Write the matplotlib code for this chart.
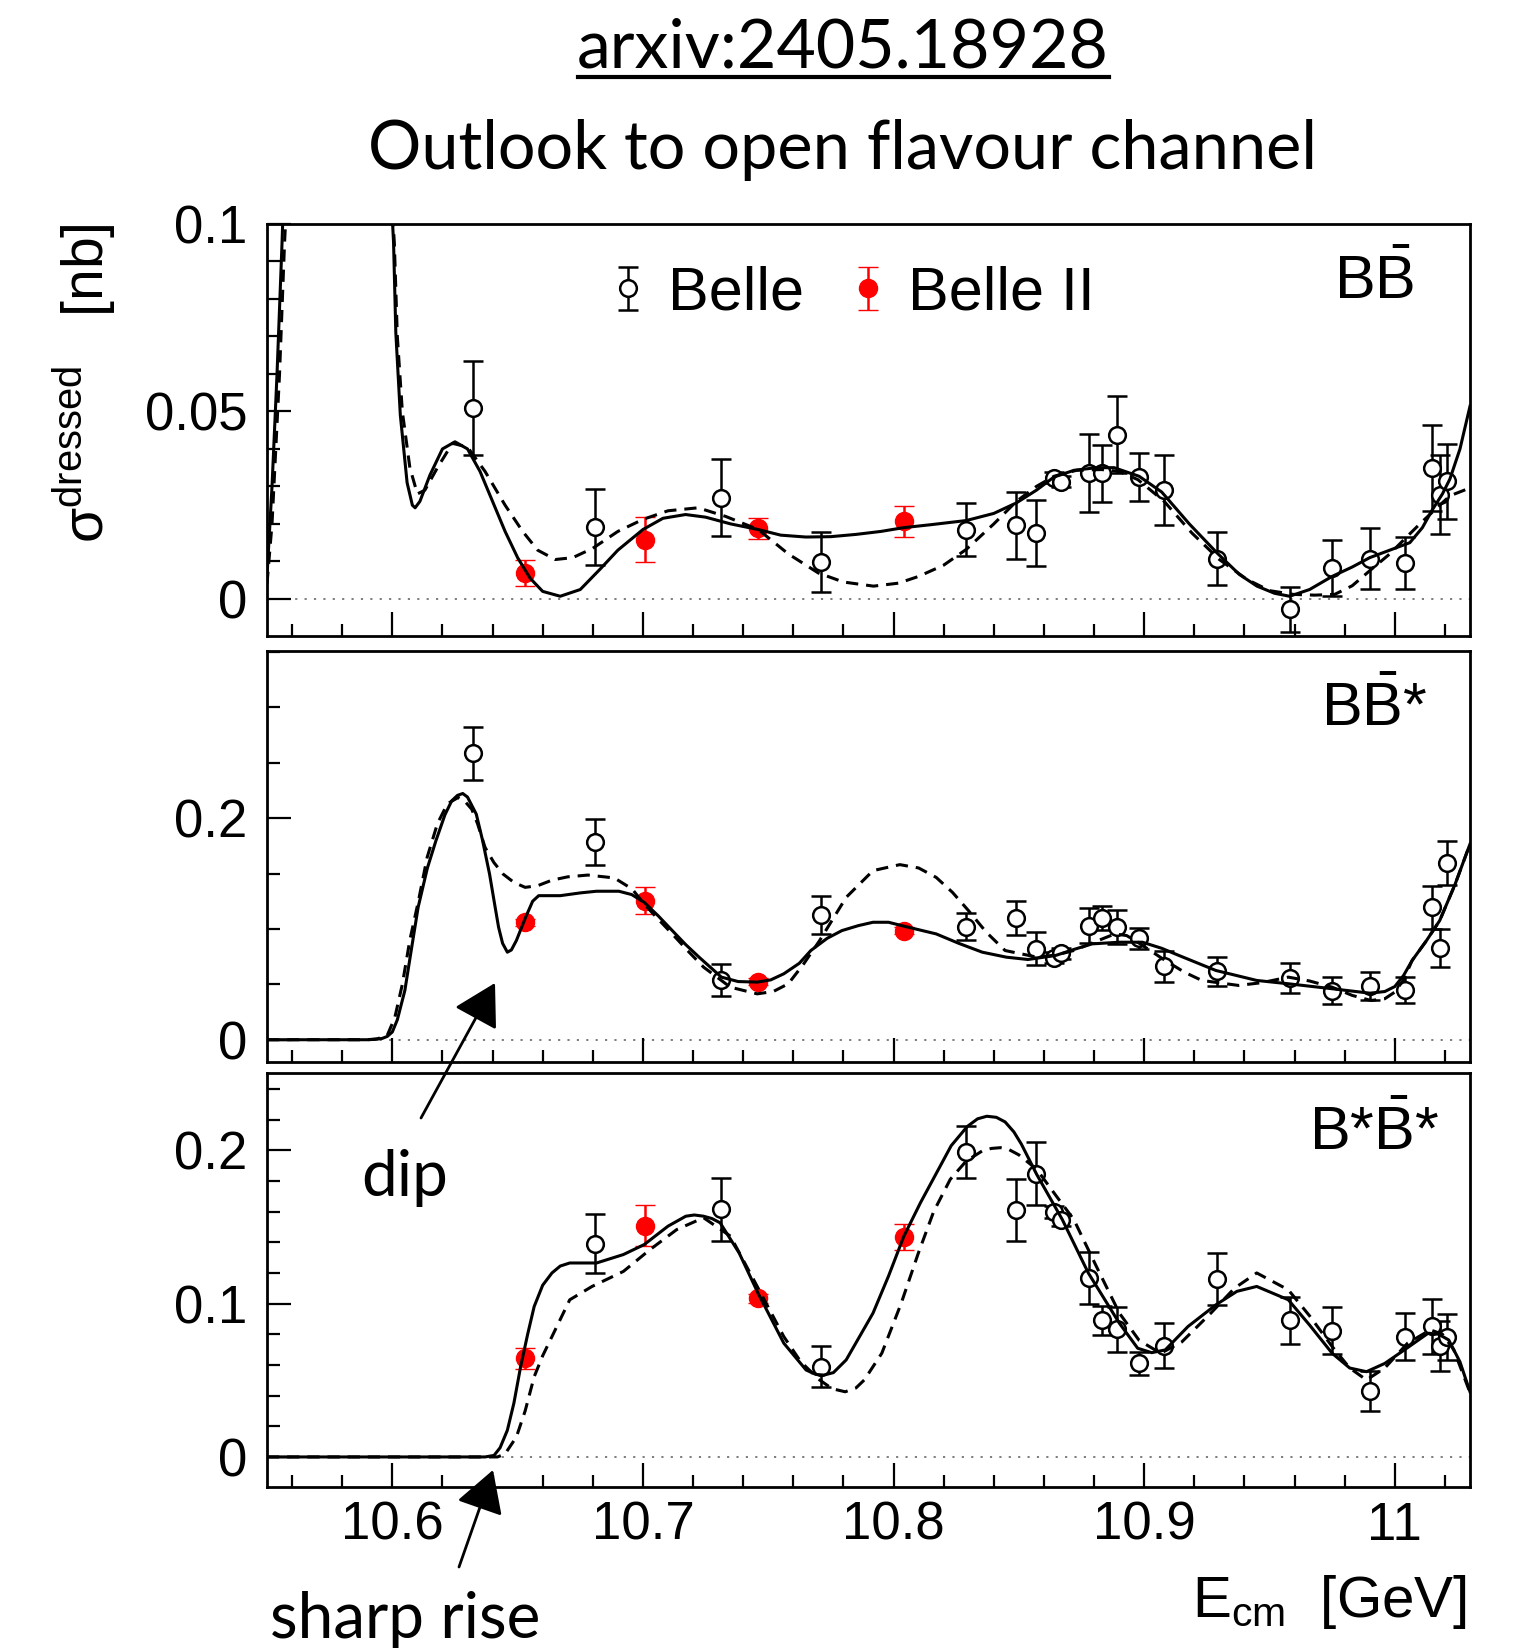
import numpy as np
import matplotlib
matplotlib.use('Agg')
import matplotlib.pyplot as plt
from matplotlib.lines import Line2D
from matplotlib.patches import FancyArrowPatch
from matplotlib.legend_handler import HandlerErrorbar

plt.rcParams['font.family'] = ['Liberation Sans', 'DejaVu Sans']
plt.rcParams['mathtext.fontset'] = 'custom'
plt.rcParams['mathtext.rm'] = 'Liberation Sans'
plt.rcParams['mathtext.it'] = 'Liberation Sans:italic'

# Belle scan energies (GeV)
belle_e = [10.632, 10.681, 10.731, 10.771, 10.829, 10.849, 10.857, 10.864, 10.867,
           10.878, 10.883, 10.889, 10.898, 10.908, 10.929, 10.958, 10.975, 10.990,
           11.004, 11.015, 11.018, 11.021]
belle2_e = [10.653, 10.701, 10.746, 10.804]

# B Bbar
bb_belle = [0.0509, 0.0192, 0.0270, 0.0098, 0.0185, 0.0196, 0.0176, 0.0323, 0.0313,
            0.0336, 0.0335, 0.0438, 0.0325, 0.0290, 0.0107, -0.0028, 0.0083, 0.0107,
            0.0096, 0.0350, 0.0278, 0.0314]
bb_belle_err = [0.0125, 0.0102, 0.0103, 0.0080, 0.0071, 0.0090, 0.0089, 0.0015, 0.0015,
                0.0103, 0.0076, 0.0103, 0.0063, 0.0093, 0.0071, 0.0060, 0.0074, 0.0081,
                0.0069, 0.0115, 0.0105, 0.0100]
bb_belle2 = [0.0069, 0.0158, 0.0188, 0.0207]
bb_belle2_err = [0.0034, 0.0060, 0.0029, 0.0042]

# B Bbar*
bbs_belle = [0.2586, 0.1784, 0.0540, 0.1126, 0.1021, 0.1100, 0.0820, 0.0739, 0.0780,
             0.1030, 0.1100, 0.1015, 0.0916, 0.0664, 0.0616, 0.0556, 0.0444, 0.0483,
             0.0450, 0.1195, 0.0826, 0.1595]
bbs_belle_err = [0.024, 0.021, 0.0143, 0.0168, 0.012, 0.0155, 0.015, 0.005, 0.005,
                 0.016, 0.011, 0.0155, 0.0095, 0.014, 0.0128, 0.0132, 0.012, 0.0129,
                 0.0117, 0.0195, 0.017, 0.0195]
bbs_belle2 = [0.1060, 0.1255, 0.0523, 0.0985]
bbs_belle2_err = [0.003, 0.012, 0.003, 0.003]

# B* Bbar* (no point below threshold at 10.632)
bsbs_belle = [0.1391, 0.1614, 0.0589, 0.1989, 0.1610, 0.1847, 0.1597, 0.1544,
              0.1167, 0.0890, 0.0833, 0.0611, 0.0726, 0.1163, 0.0890, 0.0824, 0.0430,
              0.0785, 0.0851, 0.0724, 0.0781]
bsbs_belle_err = [0.0193, 0.0203, 0.0134, 0.0168, 0.0203, 0.0207, 0.004, 0.004,
                  0.0168, 0.0097, 0.0147, 0.0074, 0.0148, 0.017, 0.0154, 0.0154, 0.013,
                  0.0152, 0.0182, 0.0163, 0.015]
bsbs_belle2 = [0.0643, 0.1509, 0.1034, 0.1433]
bsbs_belle2_err = [0.0068, 0.0134, 0.003, 0.0086]

# fit curves (solid) and alternative fit (dashed)
bb_fit_x = [10.550, 10.552, 10.554, 10.556, 10.557, 10.599, 10.6005, 10.6014, 10.6032, 10.6059,
            10.608, 10.6091, 10.611, 10.615, 10.620, 10.625, 10.630, 10.635, 10.640, 10.645,
            10.650, 10.655, 10.660, 10.667, 10.675, 10.683, 10.690, 10.700, 10.708, 10.717,
            10.725, 10.735, 10.746, 10.755, 10.765, 10.775, 10.785, 10.795, 10.804, 10.815,
            10.829, 10.840, 10.849, 10.857, 10.864, 10.872, 10.881, 10.888, 10.898, 10.907,
            10.918, 10.929, 10.938, 10.945, 10.952, 10.958, 10.966, 10.975, 10.983, 10.990,
            11.000, 11.006, 11.011, 11.015, 11.019, 11.022, 11.026, 11.030]
bb_fit_y = [0.006, 0.030, 0.060, 0.095, 0.115, 0.115, 0.095, 0.071, 0.049, 0.031,
            0.025, 0.0243, 0.026, 0.033, 0.040, 0.0419, 0.040, 0.034, 0.026, 0.018,
            0.011, 0.0055, 0.002, 0.0007, 0.0025, 0.008, 0.013, 0.0185, 0.0215, 0.0225,
            0.0218, 0.020, 0.0185, 0.017, 0.0165, 0.0166, 0.0172, 0.018, 0.019, 0.0198,
            0.0209, 0.0228, 0.0256, 0.029, 0.0325, 0.0343, 0.035, 0.035, 0.0327, 0.0285,
            0.020, 0.0123, 0.0065, 0.0034, 0.0015, 0.0007, 0.0025, 0.006, 0.0085, 0.011,
            0.0135, 0.015, 0.019, 0.0238, 0.028, 0.032, 0.040, 0.0514]
bb_alt_x = [10.550, 10.552, 10.555, 10.557, 10.5585, 10.599, 10.6008, 10.602, 10.604, 10.607,
            10.610, 10.613, 10.618, 10.624, 10.630, 10.637, 10.645, 10.652, 10.658, 10.665,
            10.672, 10.680, 10.690, 10.700, 10.710, 10.722, 10.733, 10.746, 10.758, 10.770,
            10.780, 10.792, 10.802, 10.810, 10.820, 10.829, 10.840, 10.849, 10.857, 10.864,
            10.873, 10.883, 10.890, 10.8975, 10.908, 10.919, 10.930, 10.941, 10.950, 10.9595,
            10.968, 10.976, 10.983, 10.9905, 10.998, 11.005, 11.010, 11.016, 11.022, 11.030]
bb_alt_y = [0.004, 0.020, 0.060, 0.095, 0.115, 0.115, 0.095, 0.070, 0.050, 0.035,
            0.028, 0.029, 0.035, 0.0415, 0.0405, 0.034, 0.025, 0.018, 0.013, 0.0105,
            0.011, 0.0135, 0.018, 0.0212, 0.0235, 0.0243, 0.022, 0.0185, 0.012, 0.0069,
            0.0045, 0.0034, 0.0042, 0.006, 0.009, 0.0132, 0.020, 0.026, 0.030, 0.0327,
            0.0343, 0.0345, 0.034, 0.0318, 0.026, 0.0176, 0.0105, 0.0052, 0.0022, 0.0012,
            0.0010, 0.0012, 0.0035, 0.0078, 0.012, 0.0167, 0.020, 0.0238, 0.0275, 0.0296]

bbs_fit_x = [10.550, 10.590, 10.593, 10.596, 10.598, 10.600, 10.602, 10.605, 10.6075, 10.6103,
             10.614, 10.6174, 10.621, 10.6237, 10.626, 10.6281, 10.630, 10.6335, 10.636, 10.6388,
             10.641, 10.6424, 10.644, 10.6459, 10.6475, 10.6495, 10.6532, 10.656, 10.6584, 10.667,
             10.675, 10.6815, 10.6904, 10.6955, 10.7005, 10.706, 10.7117, 10.717, 10.7224, 10.7313,
             10.738, 10.7456, 10.751, 10.7562, 10.7624, 10.767, 10.7735, 10.7794, 10.786, 10.7918,
             10.798, 10.8041, 10.817, 10.826, 10.8354, 10.845, 10.8536, 10.8646, 10.872, 10.8792,
             10.8901, 10.8993, 10.907, 10.9139, 10.9286, 10.9449, 10.9575, 10.975, 10.9901, 10.996,
             11.000, 11.0035, 11.0069, 11.0125, 11.0179, 11.024, 11.030]
bbs_fit_y = [0.0, 0.0, 0.0003, 0.0012, 0.003, 0.007, 0.018, 0.0444, 0.080, 0.1195,
             0.155, 0.1796, 0.203, 0.2156, 0.2205, 0.2222, 0.219, 0.2036, 0.180, 0.1495,
             0.120, 0.1015, 0.087, 0.079, 0.081, 0.0895, 0.1105, 0.125, 0.130, 0.130,
             0.1325, 0.134, 0.134, 0.131, 0.124, 0.112, 0.0985, 0.086, 0.0745, 0.0565,
             0.0525, 0.052, 0.054, 0.0595, 0.069, 0.0805, 0.0915, 0.0985, 0.103, 0.106,
             0.106, 0.1025, 0.0955, 0.087, 0.079, 0.0745, 0.0724, 0.076, 0.0815, 0.0865,
             0.088, 0.088, 0.0825, 0.076, 0.0625, 0.0535, 0.0505, 0.046, 0.042, 0.0435,
             0.048, 0.058, 0.0715, 0.089, 0.1075, 0.140, 0.1766]
bbs_alt_x = [10.550, 10.590, 10.594, 10.598, 10.601, 10.604, 10.607, 10.6104, 10.6139, 10.618,
             10.622, 10.6263, 10.629, 10.6317, 10.634, 10.637, 10.6405, 10.6442, 10.6485, 10.653,
             10.658, 10.6637, 10.670, 10.678, 10.6886, 10.6957, 10.7005, 10.706, 10.7117, 10.718,
             10.7242, 10.7349, 10.7456, 10.752, 10.758, 10.764, 10.7705, 10.7811, 10.7918, 10.8025,
             10.810, 10.817, 10.8235, 10.8299, 10.837, 10.8445, 10.8573, 10.865, 10.8719, 10.880,
             10.8883, 10.893, 10.8974, 10.9084, 10.916, 10.923, 10.9376, 10.947, 10.9575, 10.966,
             10.975, 10.983, 10.9905, 10.996, 11.000, 11.0035, 11.0069, 11.0125, 11.0179, 11.024,
             11.030]
bbs_alt_y = [0.0, 0.0, 0.0008, 0.004, 0.020, 0.050, 0.090, 0.125, 0.1646, 0.195,
             0.213, 0.2186, 0.215, 0.208, 0.195, 0.1736, 0.160, 0.1495, 0.142, 0.1375,
             0.139, 0.144, 0.147, 0.1486, 0.146, 0.136, 0.1225, 0.109, 0.0955, 0.080,
             0.0655, 0.0474, 0.0414, 0.0435, 0.0505, 0.068, 0.0895, 0.1285, 0.1526, 0.158,
             0.155, 0.1465, 0.133, 0.1165, 0.097, 0.0805, 0.0745, 0.0765, 0.0805, 0.088,
             0.0955, 0.094, 0.088, 0.0715, 0.061, 0.0535, 0.049, 0.0515, 0.0565, 0.053,
             0.0474, 0.040, 0.0354, 0.037, 0.043, 0.054, 0.0715, 0.089, 0.1075, 0.140,
             0.1766]

bsbs_fit_x = [10.550, 10.637, 10.6406, 10.643, 10.6459, 10.6485, 10.6512, 10.654, 10.6566, 10.660,
              10.6637, 10.667, 10.6708, 10.6815, 10.6922, 10.7005, 10.710, 10.7171, 10.7205, 10.7242,
              10.7275, 10.7308, 10.7384, 10.7459, 10.7562, 10.7651, 10.769, 10.7722, 10.776, 10.7811,
              10.7918, 10.798, 10.8041, 10.8108, 10.8172, 10.823, 10.8294, 10.8335, 10.8372, 10.841,
              10.8445, 10.848, 10.851, 10.8571, 10.8673, 10.8777, 10.8901, 10.8974, 10.903, 10.9084,
              10.9175, 10.9286, 10.937, 10.9449, 10.9575, 10.966, 10.975, 10.982, 10.9887, 10.996,
              11.0038, 11.0133, 11.0175, 11.0215, 11.026, 11.030]
bsbs_fit_y = [0.0, 0.0, 0.001, 0.006, 0.0174, 0.035, 0.0589, 0.080, 0.0981, 0.112,
              0.120, 0.1245, 0.1265, 0.1265, 0.132, 0.1385, 0.1505, 0.157, 0.1578, 0.157,
              0.1555, 0.1527, 0.133, 0.1069, 0.0742, 0.0567, 0.0538, 0.0534, 0.055, 0.0633,
              0.0938, 0.118, 0.1439, 0.166, 0.1854, 0.203, 0.2155, 0.2205, 0.2222, 0.2215,
              0.2185, 0.212, 0.204, 0.1843, 0.1549, 0.120, 0.0872, 0.0709, 0.068, 0.0698,
              0.0851, 0.0992, 0.108, 0.1112, 0.1025, 0.086, 0.0676, 0.058, 0.0556, 0.061,
              0.0698, 0.0807, 0.080, 0.0763, 0.062, 0.0425]
bsbs_alt_x = [10.550, 10.642, 10.645, 10.6495, 10.653, 10.6566, 10.660, 10.6637, 10.6708, 10.6797,
              10.6922, 10.7028, 10.7135, 10.7242, 10.7349, 10.7456, 10.7562, 10.763, 10.7705, 10.7755,
              10.7807, 10.785, 10.7883, 10.7953, 10.803, 10.8099, 10.816, 10.8226, 10.829, 10.8354,
              10.839, 10.8427, 10.846, 10.850, 10.8571, 10.865, 10.8719, 10.881, 10.8901, 10.898,
              10.9066, 10.915, 10.9266, 10.936, 10.9449, 10.9575, 10.966, 10.975, 10.982, 10.9887,
              10.996, 11.0051, 11.0142, 11.019, 11.0235, 11.030]
bsbs_alt_y = [0.0, 0.0, 0.002, 0.013, 0.030, 0.0523, 0.066, 0.0785, 0.1025, 0.1112,
              0.121, 0.1352, 0.1483, 0.156, 0.144, 0.1112, 0.0785, 0.062, 0.0502, 0.0445,
              0.0425, 0.045, 0.0502, 0.0676, 0.100, 0.133, 0.160, 0.181, 0.193, 0.1996,
              0.2012, 0.2017, 0.2005, 0.197, 0.1876, 0.170, 0.1549, 0.124, 0.0938, 0.076,
              0.0676, 0.075, 0.0938, 0.110, 0.120, 0.109, 0.092, 0.072, 0.058, 0.0502,
              0.058, 0.0742, 0.0829, 0.080, 0.070, 0.042]

xticks = [10.6, 10.7, 10.8, 10.9, 11.0]
xtick_labels = ['10.6', '10.7', '10.8', '10.9', '11']

W, H = 1516, 1648
fig = plt.figure(figsize=(W / 100, H / 100), dpi=100)

left = 267 / W
width = (1470 - 267) / W
panel_px = [(224, 636), (651, 1062), (1073, 1487)]

panels = [
    dict(fit=(bb_fit_x, bb_fit_y), alt=(bb_alt_x, bb_alt_y),
         be=(belle_e, bb_belle, bb_belle_err), b2=(belle2_e, bb_belle2, bb_belle2_err),
         ylim=(-0.0099, 0.1), major=[0, 0.05, 0.1], ylabels=['0', '0.05', '0.1'],
         minor=0.01, name=r'B$\mathrm{\bar{B}}$', name_xy=(1374, 283)),
    dict(fit=(bbs_fit_x, bbs_fit_y), alt=(bbs_alt_x, bbs_alt_y),
         be=(belle_e, bbs_belle, bbs_belle_err), b2=(belle2_e, bbs_belle2, bbs_belle2_err),
         ylim=(-0.0201, 0.3508), major=[0, 0.2], ylabels=['0', '0.2'],
         minor=0.05, name=r'B$\mathrm{\bar{B}}$*', name_xy=(1374, 710)),
    dict(fit=(bsbs_fit_x, bsbs_fit_y), alt=(bsbs_alt_x, bsbs_alt_y),
         be=(belle_e[1:], bsbs_belle, bsbs_belle_err), b2=(belle2_e, bsbs_belle2, bsbs_belle2_err),
         ylim=(-0.0196, 0.2504), major=[0, 0.1, 0.2], ylabels=['0', '0.1', '0.2'],
         minor=0.02, name=r'B*$\mathrm{\bar{B}}$*', name_xy=(1374, 1134)),
]

axes = []
for i, p in enumerate(panels):
    top, bot = panel_px[i]
    ax = fig.add_axes([left, 1 - bot / H, width, (bot - top) / H])
    axes.append(ax)
    ax.set_xlim(10.55, 11.03)
    ax.set_ylim(*p['ylim'])
    ax.axhline(0, color='0.45', lw=1.3, ls=(0, (1.2, 4)), zorder=1)
    ax.plot(*p['alt'], color='k', lw=2.2, dashes=(4, 2.6), zorder=3)
    ax.plot(*p['fit'], color='k', lw=2.2, zorder=3)
    ex, ey, ee = p['be']
    h1 = ax.errorbar(ex, ey, yerr=ee, fmt='o', ms=12, mfc='white', mec='k', mew=1.8,
                     ecolor='k', elinewidth=1.8, capsize=7, capthick=1.8, zorder=2)
    rx, ry, re = p['b2']
    h2 = ax.errorbar(rx, ry, yerr=re, fmt='o', ms=13, mfc='red', mec='red', mew=1.0,
                     ecolor='red', elinewidth=1.8, capsize=7, capthick=1.8, zorder=2.5)
    ax.set_xticks(xticks)
    ax.set_xticks(np.arange(10.56, 11.03, 0.02), minor=True)
    ax.set_yticks(p['major'])
    ax.set_yticklabels(p['ylabels'])
    ax.set_yticks(np.arange(0, p['ylim'][1] + 1e-6, p['minor']), minor=True)
    ax.tick_params(which='both', direction='in', top=False, right=False, width=1.6,
                   labelsize=38)
    ax.tick_params(which='major', length=17, pad=14)
    ax.tick_params(which='minor', length=9)
    ax.tick_params(axis='x', pad=10)
    for s in ax.spines.values():
        s.set_linewidth(2.0)
    if i < 2:
        ax.tick_params(axis='x', labelbottom=False)
    else:
        ax.set_xticklabels(xtick_labels)
    nx, ny = p['name_xy']
    fig.text(nx / W, 1 - ny / H, p['name'], fontsize=44, ha='center', va='center')
    if i == 0:
        leg = ax.legend([h1, h2], ['Belle', 'Belle II'], ncol=2, loc='center left',
                        bbox_to_anchor=((610 - 267) / 1203, (636 - 294) / 412),
                        frameon=False, fontsize=44, handlelength=0.6, handletextpad=0.35,
                        columnspacing=0.75, borderpad=0, borderaxespad=0,
                        handler_map={type(h1): HandlerErrorbar(xerr_size=0.35)})

# axis titles
fig.text(84 / W, 1 - 383 / H, 'σ$^{\\mathrm{dressed}}$   [nb]', rotation=90,
         fontsize=41, ha='center', va='center')
fig.text(1467 / W, 1 - 1617 / H, 'E$_{\\mathrm{cm}}$  [GeV]', fontsize=42,
         ha='right', va='baseline')

# header
fig.text(843 / W, 1 - 49 / H, 'arxiv:2405.18928', fontsize=49, family='Lato',
         ha='center', va='center')
fig.add_artist(Line2D([578 / W, 1109 / W], [1 - 77 / H, 1 - 77 / H], color='k', lw=3))
fig.text(843 / W, 1 - 150 / H, 'Outlook to open flavour channel', fontsize=48,
         family='Lato', ha='center', va='center')

# hand-drawn style annotations
fig.text(405 / W, 1 - 1178 / H, 'dip', fontsize=46, family='Lato', ha='center', va='center')
fig.text(405 / W, 1 - 1620 / H, 'sharp rise', fontsize=46, family='Lato', ha='center',
         va='center')
for tail, tip in [((421, 1118), (495, 983)), ((459, 1567), (493, 1470))]:
    arr = FancyArrowPatch((tail[0], H - tail[1]), (tip[0], H - tip[1]),
                          transform=None, arrowstyle='-|>,head_length=2.6,head_width=1.5',
                          mutation_scale=10, color='k', lw=2.0, shrinkA=0, shrinkB=0)
    fig.add_artist(arr)

fig.savefig('out.png', dpi=100)
